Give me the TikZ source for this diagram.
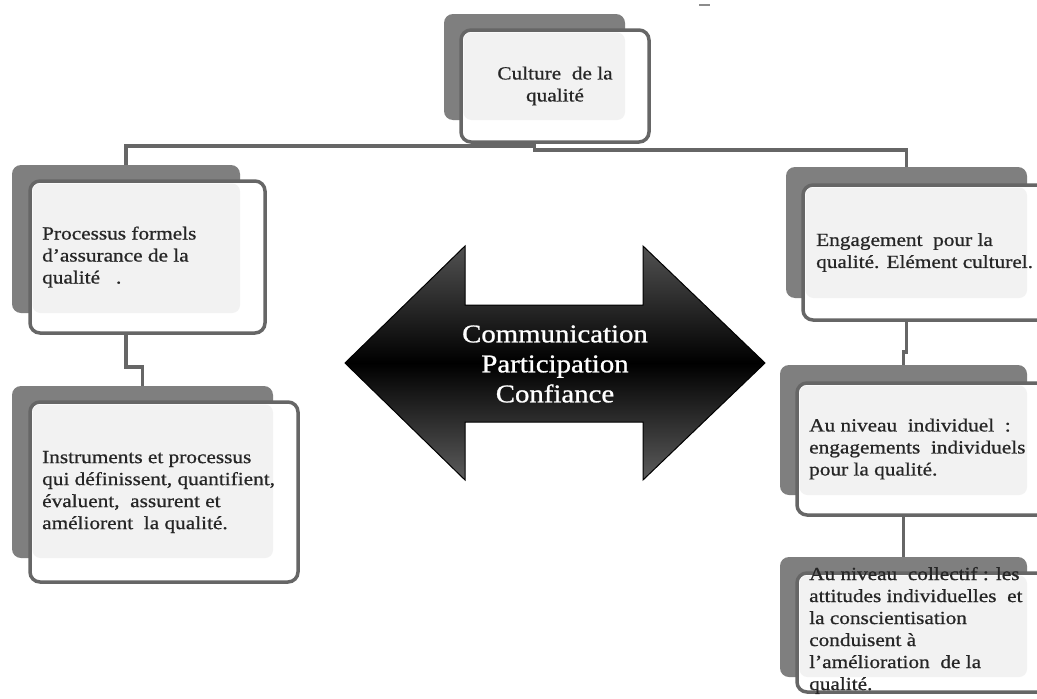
\documentclass[tikz,border=0pt]{standalone}
\usepackage{fontspec}
\setmainfont{Liberation Serif}[FakeStretch=1.15]
\newfontfamily\boxfont{Liberation Serif}[FakeStretch=1.15, FakeBold=0.8]
\newfontfamily\arrowfont{Liberation Serif}[FakeStretch=1.13, FakeBold=1]
\definecolor{backgray}{HTML}{7F7F7F}
\definecolor{linegray}{HTML}{666666}
\definecolor{innergray}{HTML}{F2F2F2}
\tikzset{
  backbox/.style={rectangle, rounded corners=9pt, fill=backgray, draw=none, inner sep=0pt, outer sep=0pt},
  frontbox/.style={rectangle, rounded corners=10pt, fill=white, draw=linegray, line width=3.5pt, inner sep=0pt, outer sep=0pt,
    path picture={\fill[innergray, rounded corners=8pt] ([shift={(2.5,2.5)}]path picture bounding box.north west) rectangle (#1.south east);}},
  conn/.style={draw=linegray, line width=3.5pt},
  boxtext/.style={anchor=west, align=left, inner sep=0pt, text=black!85, font=\boxfont\fontsize{18.5}{22}\selectfont},
  arrowtext/.style={align=center, inner sep=0pt, text=white, font=\arrowfont\fontsize{25.5}{30}\selectfont},
}
\begin{document}
\begin{tikzpicture}[x=1pt,y=-1pt]
\useasboundingbox (0,0) rectangle (1037,699);
\clip (0,0) rectangle (1037,699);
\fill[white] (0,0) rectangle (1037,699);
% back boxes
\node[backbox, minimum width=181pt, minimum height=106pt] (b0) at (534.5,67) {};
\node[backbox, minimum width=228pt, minimum height=148pt] (b1) at (126,239) {};
\node[backbox, minimum width=261pt, minimum height=172pt] (b2) at (142.5,472) {};
\node[backbox, minimum width=241pt, minimum height=131pt] (b3) at (906.5,232.5) {};
\node[backbox, minimum width=247pt, minimum height=130pt] (b4) at (903.5,430) {};
\node[backbox, minimum width=247pt, minimum height=120pt] (b5) at (903.5,617) {};
% connectors
\draw[conn] (b0.south) -- ++(0,26) -| (b1.north);
\draw[conn] (b0.south) -- ++(0,30) -| (b3.north);
\draw[conn] (b1.south) -- ++(0,54) -| (b2.north);
\draw[conn] (b3.south) -- ++(0,54) -| (b4.north);
\draw[conn] (b4.south) -- (b5.north);
% front boxes
\node[frontbox=b0, minimum width=188pt, minimum height=112pt] (f0) at (555,86) {};
\node[frontbox=b1, minimum width=235pt, minimum height=152pt] (f1) at (147.5,257) {};
\node[frontbox=b2, minimum width=268pt, minimum height=180pt] (f2) at (164,492) {};
\node[frontbox=b3, minimum width=249pt, minimum height=135pt] (f3) at (927.5,252.5) {};
\node[frontbox=b4, minimum width=255pt, minimum height=132pt] (f4) at (924.5,449) {};
\node[frontbox=b5, minimum width=255pt, minimum height=119pt] (f5) at (924.5,632.5) {};
% texts
\node[boxtext, anchor=center, align=center] (t0) at (f0.center) {Culture~ de la\\qualité};
\node[boxtext] (t1) at ([xshift=12pt]f1.west) {Processus formels\\d’assurance de la\\qualité~~ .};
\node[boxtext] (t2) at ([xshift=12pt]f2.west) {Instruments et processus\\qui définissent, quantifient,\\évaluent,~ assurent et\\améliorent~ la qualité.};
\node[boxtext] (t3) at ([xshift=13pt]f3.west) {Engagement~ pour la\\qualité. Elément culturel.};
\node[boxtext] (t4) at ([xshift=12pt]f4.west) {Au niveau~ individuel~ :\\engagements~ individuels\\pour la qualité.};
\node[boxtext] (t5) at ([xshift=12pt,yshift=2pt]f5.west) {Au niveau~ collectif : les\\attitudes individuelles~ et\\la conscientisation\\conduisent à\\l’amélioration~ de la\\qualité.};
% double arrow
\draw[black, line width=1pt, top color=black!68, bottom color=black!64, middle color=black]
  (345,363) -- (465,246) -- (465,305) -- (643,305) -- (643,246) -- (765,363)
  -- (643,480) -- (643,422) -- (465,422) -- (465,480) -- cycle;
\node[arrowtext] (mid) at (555,364) {Communication\\Participation\\Confiance};
% small mark at top
\draw[black!45, line width=1.2pt] (699,5) -- (710,5);
\end{tikzpicture}
\end{document}
